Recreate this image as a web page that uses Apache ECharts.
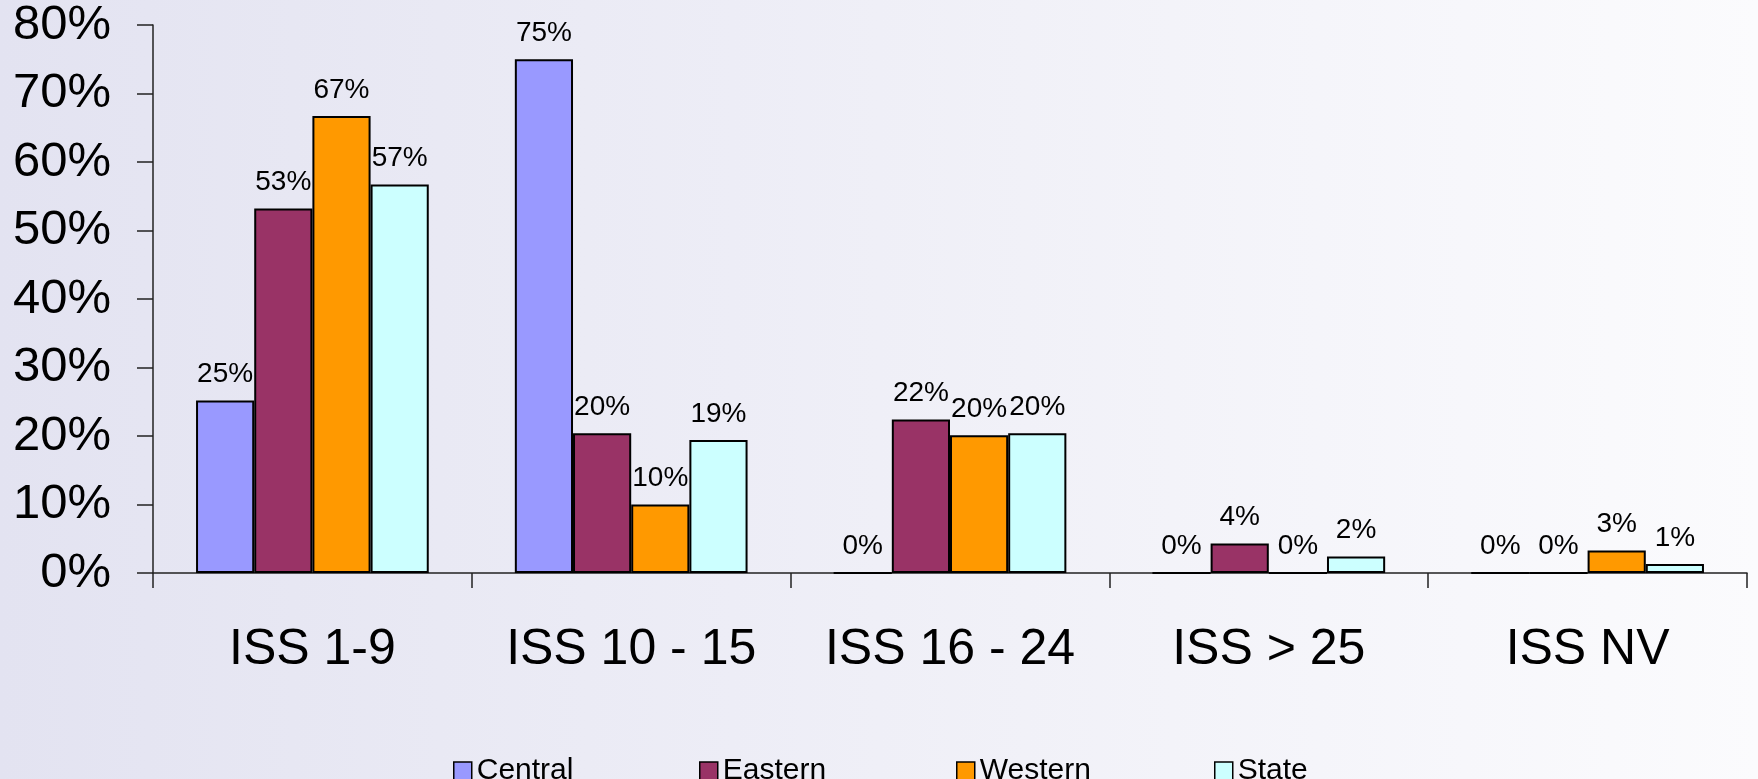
<!DOCTYPE html>
<html>
<head>
<meta charset="utf-8">
<script src="https://cdn.jsdelivr.net/npm/echarts@6/dist/echarts.min.js"></script>
<style>
  html, body { margin: 0; padding: 0; }
  #main { width: 1758px; height: 779px; }
</style>
</head>
<body>
<div id="main"></div>
<script>
// categories and values (percent)
var categories = ['ISS 1-9', 'ISS 10 - 15', 'ISS 16 - 24', 'ISS > 25', 'ISS NV'];
var central = [25.2, 75.0, 0, 0, 0];
var eastern = [53.2, 20.4, 22.4, 4.3, 0];
var western = [66.7, 10.0, 20.1, 0, 3.3];
var state = [56.7, 19.4, 20.4, 2.4, 1.3];
var yTicks = [0, 10, 20, 30, 40, 50, 60, 70, 80];

var seriesNames = ['Central', 'Eastern', 'Western', 'State'];
var seriesColors = ['#9999FF', '#993366', '#FF9900', '#CCFFFF'];
var seriesData = [central, eastern, western, state];
// legend slot positions
var legendLeft = [448, 694, 951, 1209];

var myChart = echarts.init(document.getElementById('main'));

var font = 'Liberation Sans, Arial, sans-serif';

var series = seriesNames.map(function (name, i) {
    return {
        name: name,
        type: 'bar',
        data: seriesData[i],
        barGap: 0,
        barCategoryGap: '27%',
        itemStyle: {
            color: seriesColors[i],
            borderColor: '#000',
            borderWidth: 2
        },
        label: {
            show: true,
            position: 'top',
            distance: 12,
            color: '#000',
            fontFamily: font,
            fontSize: 28,
            formatter: function (p) { return Math.round(p.value) + '%'; }
        },
        emphasis: { disabled: true }
    };
});

// one legend per item so the slots keep their spacing
var legends = seriesNames.map(function (name, i) {
    return {
        data: [name],
        left: legendLeft[i],
        top: 751,
        itemWidth: 18,
        itemHeight: 18,
        icon: 'rect',
        itemStyle: { borderColor: '#000', borderWidth: 1.5 },
        textStyle: {
            color: '#000',
            fontFamily: font,
            fontSize: 30
        }
    };
});

var option = {
    animation: false,
    backgroundColor: new echarts.graphic.LinearGradient(0, 0, 1, 0, [
        { offset: 0, color: '#E3E3F1' },
        { offset: 1, color: '#FBFBFD' }
    ]),
    grid: {
        left: 153,
        right: 11,
        top: 25,
        bottom: 206
    },
    legend: legends,
    xAxis: {
        type: 'category',
        data: categories,
        axisLine: { lineStyle: { color: '#222', width: 1.5 } },
        axisTick: { show: true, interval: 0, length: 15, lineStyle: { color: '#222', width: 1.5 } },
        axisLabel: {
            interval: 0,
            color: '#000',
            fontFamily: font,
            fontSize: 50,
            margin: 52
        }
    },
    yAxis: {
        type: 'value',
        min: yTicks[0],
        max: yTicks[yTicks.length - 1],
        interval: 10,
        splitLine: { show: false },
        axisLine: { show: true, lineStyle: { color: '#222', width: 1.5 } },
        axisTick: { show: true, length: 16, lineStyle: { color: '#222', width: 1.5 } },
        axisLabel: {
            color: '#000',
            fontFamily: font,
            fontSize: 49,
            margin: 42,
            formatter: '{value}%'
        }
    },
    series: series
};

myChart.setOption(option);
</script>
</body>
</html>
